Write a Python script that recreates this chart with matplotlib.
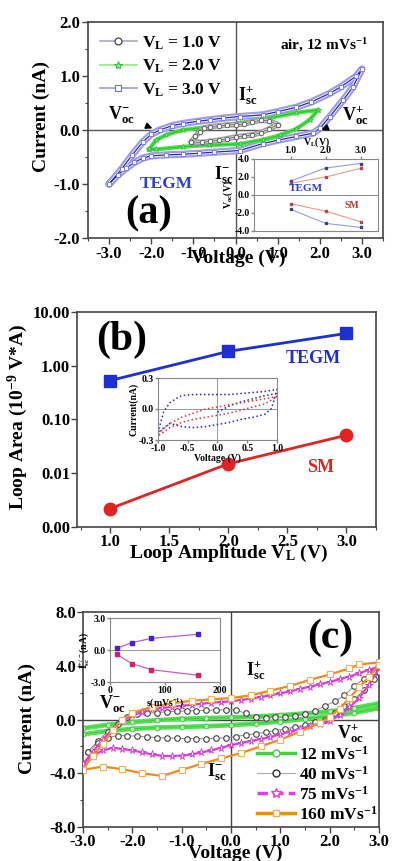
import matplotlib
matplotlib.use('Agg')
import matplotlib.pyplot as plt
from matplotlib.lines import Line2D
from matplotlib.ticker import MultipleLocator, FixedLocator, NullLocator

plt.rcParams['font.family'] = ['Liberation Serif', 'DejaVu Serif']
plt.rcParams['font.weight'] = 'bold'
plt.rcParams['axes.labelweight'] = 'bold'
plt.rcParams['mathtext.default'] = 'regular'
plt.rcParams['axes.unicode_minus'] = False

# ---------------- Panel (a) data ----------------
a3_V_up = [-3.0, -2.7, -2.45, -2.2, -2.0, -1.8, -1.5, -1.25, -0.9, -0.6, -0.3, 0.1, 0.65, 1.0, 1.44, 1.8, 2.24, 2.5, 2.87, 3.0]
a3_I_up = [-1.0, -0.72, -0.46, -0.22, -0.08, 0.0, 0.08, 0.12, 0.16, 0.19, 0.22, 0.25, 0.28, 0.34, 0.42, 0.52, 0.68, 0.80, 1.0, 1.13]
a3_V_dn = [3.0, 2.79, 2.56, 2.24, 2.0, 1.84, 1.44, 1.0, 0.65, 0.1, -0.5, -0.86, -1.25, -1.65, -2.0, -2.2, -2.4, -2.6, -2.8, -3.0]
a3_I_dn = [1.13, 0.80, 0.56, 0.25, 0.03, -0.06, -0.12, -0.19, -0.25, -0.38, -0.41, -0.43, -0.45, -0.46, -0.48, -0.52, -0.60, -0.71, -0.84, -1.0]

a2_V_up = [-2.05, -1.89, -1.65, -1.25, -0.62, 0.1, 0.65, 1.44, 1.96]
a2_I_up = [-0.36, -0.19, -0.09, 0.0, 0.06, 0.13, 0.2, 0.32, 0.37]
a2_V_dn = [1.96, 1.76, 1.44, 1.05, 0.65, 0.1, -0.62, -1.25, -1.89, -2.05]
a2_I_dn = [0.37, 0.19, 0.02, -0.10, -0.18, -0.26, -0.28, -0.31, -0.36, -0.36]

a1_V_up = [-1.05, -0.95, -0.85, -0.75, -0.6, -0.4, -0.2, 0.0, 0.2, 0.4, 0.6, 0.8, 1.0]
a1_I_up = [-0.22, -0.12, -0.03, 0.03, 0.06, 0.08, 0.09, 0.10, 0.11, 0.15, 0.18, 0.17, 0.10]
a1_V_dn = [1.0, 0.8, 0.6, 0.4, 0.2, 0.0, -0.2, -0.4, -0.6, -0.8, -1.05]
a1_I_dn = [0.10, 0.02, -0.05, -0.09, -0.11, -0.13, -0.16, -0.19, -0.21, -0.23, -0.22]

a_legend = ['V$_L$ = 1.0 V', 'V$_L$ = 2.0 V', 'V$_L$ = 3.0 V']

# inset (a): Voc vs VL
ain_VL = [1.0, 2.0, 3.0]
ain_tegm_pos = [1.55, 3.0, 3.5]
ain_sm_pos = [1.3, 2.0, 2.95]
ain_sm_neg = [-0.97, -1.8, -2.96]
ain_tegm_neg = [-1.6, -3.15, -3.6]

# ---------------- Panel (b) data ----------------
b_VL = [1.0, 2.0, 3.0]
b_tegm = [0.53, 1.85, 4.0]
b_sm = [0.0022, 0.015, 0.051]
b_yticks = [0.001, 0.01, 0.1, 1, 10]
b_yticklabels = ['0.00', '0.01', '0.10', '1.00', '10.00']

bin_tegm_V = [-1.0, -0.95, -0.9, -0.8, -0.7, -0.6, -0.4, -0.2, 0.0, 0.2, 0.4, 0.6, 0.8, 0.9, 1.0,
              0.95, 0.9, 0.8, 0.6, 0.4, 0.2, 0.0, -0.2, -0.4, -0.6, -0.8, -0.9, -1.0]
bin_tegm_I = [-0.23, -0.12, -0.02, 0.06, 0.10, 0.13, 0.14, 0.14, 0.14, 0.14, 0.15, 0.16, 0.17, 0.18, 0.19,
              0.08, 0.0, -0.05, -0.08, -0.10, -0.13, -0.15, -0.17, -0.18, -0.17, -0.14, -0.18, -0.23]
bin_tegm2_V = [0.0, 0.2, 0.4, 0.6, 0.8, 1.0]
bin_tegm2_I = [-0.03, 0.03, 0.07, 0.10, 0.13, 0.15]
bin_sm_V = [-1.0, -0.8, -0.6, -0.4, -0.2, 0.0, 0.2, 0.4, 0.6, 0.8, 1.0,
            0.8, 0.6, 0.4, 0.2, 0.0, -0.2, -0.4, -0.6, -0.8, -1.0]
bin_sm_I = [-0.24, -0.14, -0.08, -0.04, 0.0, 0.02, 0.04, 0.06, 0.08, 0.10, 0.12,
            0.05, 0.02, -0.01, -0.04, -0.06, -0.08, -0.10, -0.13, -0.18, -0.26]

# ---------------- Panel (c) data ----------------
c12_V = [-3.0, -2.5, -2.0, -1.5, -1.0, -0.5, 0.0, 0.5, 1.0, 1.5, 2.0, 2.5, 3.0,
         3.0, 2.5, 2.0, 1.5, 1.0, 0.5, 0.0, -0.5, -1.0, -1.5, -2.0, -2.5, -3.0]
c12_I = [-0.65, -0.4, -0.2, -0.05, 0.05, 0.1, 0.15, 0.22, 0.32, 0.45, 0.6, 0.85, 1.2,
         0.85, 0.5, 0.25, 0.05, -0.15, -0.3, -0.42, -0.5, -0.55, -0.6, -0.7, -0.85, -1.1]

c40_V = [-2.9, -2.7, -2.5, -2.3, -2.1, -1.9, -1.7, -1.5, -1.3, -1.1, -0.9, -0.7, -0.5, -0.3, -0.1, 0.1,
         0.3, 0.5, 0.7, 0.9, 1.1, 1.3, 1.5, 1.7, 1.9, 2.1, 2.3, 2.5, 2.7, 2.9, 3.0,
         3.0, 2.9, 2.7, 2.5, 2.3, 2.1, 1.9, 1.7, 1.5, 1.3, 1.1, 0.9, 0.7, 0.5, 0.3, 0.1, -0.1,
         -0.3, -0.5, -0.7, -0.9, -1.1, -1.3, -1.5, -1.7, -1.9, -2.1, -2.3, -2.5, -2.7, -2.9]
c40_I = [-2.4, -1.6, -0.9, -0.3, 0.15, 0.4, 0.47, 0.52, 0.57, 0.6, 0.63, 0.66, 0.68, 0.7, 0.72, 0.72,
         0.45, 0.15, 0.12, 0.15, 0.2, 0.28, 0.42, 0.65, 1.0, 1.35, 1.8, 2.5, 3.05, 3.5, 3.7,
         3.5, 3.0, 2.2, 1.5, 1.0, 0.45, 0.0, -0.2, -0.4, -0.55, -0.7, -0.82, -0.95, -1.05, -1.15, -1.27, -1.35,
         -1.4, -1.42, -1.42, -1.42, -1.4, -1.38, -1.35, -1.3, -1.25, -1.2, -1.2, -1.35, -1.75, -2.4]

c75_V = [-3.0, -2.8, -2.6, -2.4, -2.2, -2.0, -1.8, -1.6, -1.4, -1.2, -1.0, -0.8, -0.6, -0.4, -0.2, 0.0,
         0.2, 0.4, 0.6, 0.8, 1.0, 1.2, 1.4, 1.6, 1.8, 2.0, 2.2, 2.4, 2.6, 2.8, 3.0,
         3.0, 2.8, 2.6, 2.4, 2.2, 2.0, 1.8, 1.6, 1.4, 1.2, 1.0, 0.8, 0.6, 0.4, 0.2, 0.0,
         -0.2, -0.4, -0.6, -0.8, -1.0, -1.2, -1.4, -1.6, -1.8, -2.0, -2.2, -2.4, -2.6, -2.8, -3.0]
c75_I = [-3.3, -2.4, -1.5, -0.7, -0.1, 0.3, 0.55, 0.75, 0.85, 0.95, 1.02, 1.1, 1.17, 1.25, 1.3, 1.35,
         1.45, 1.55, 1.68, 1.8, 1.95, 2.1, 2.28, 2.45, 2.62, 2.8, 3.0, 3.2, 3.45, 3.7, 3.95,
         3.8, 2.6, 1.6, 0.9, 0.3, -0.1, -0.3, -0.5, -0.7, -0.9, -1.1, -1.3, -1.45, -1.6, -1.75, -1.9,
         -2.1, -2.3, -2.45, -2.6, -2.68, -2.72, -2.7, -2.6, -2.45, -2.3, -2.2, -2.1, -2.3, -2.7, -3.3]

c160_V = [-3.0, -2.8, -2.6, -2.4, -2.2, -2.0, -1.6, -1.2, -0.8, -0.4, 0.0, 0.4, 0.8, 1.2, 1.6, 2.0, 2.4, 2.6, 3.0,
          3.0, 2.8, 2.6, 2.4, 2.2, 2.0, 1.8, 1.4, 1.0, 0.6, 0.2, -0.2, -0.6, -1.0, -1.4, -1.8, -2.2, -2.6, -3.0]
c160_I = [-3.7, -2.7, -1.8, -0.8, 0.0, 0.5, 0.95, 1.2, 1.4, 1.5, 1.6, 1.8, 2.15, 2.5, 2.95, 3.35, 3.8, 4.1, 4.25,
          4.05, 3.2, 2.4, 1.6, 0.8, 0.2, -0.25, -0.9, -1.5, -2.0, -2.5, -2.9, -3.3, -3.75, -4.2, -4.0, -3.7, -3.5, -3.75]

c_legend = ['12 mVs$^{-1}$', '40 mVs$^{-1}$', '75 mVs$^{-1}$', '160 mVs$^{-1}$']

cin_s = [12, 40, 75, 160]
cin_pos = [0.16, 0.69, 1.09, 1.47]
cin_neg = [-0.41, -1.28, -1.84, -2.37]

W, H = 399, 861
fig = plt.figure(figsize=(W / 100, H / 100), dpi=100)


def rect(l, t, r, b):
    return [l / W, 1 - b / H, (r - l) / W, (b - t) / H]


def style(ax, fs=12, spine='#444', lw=1.2, pad=1.5):
    for s in ax.spines.values():
        s.set_color(spine)
        s.set_linewidth(lw)
    ax.tick_params(which='both', direction='out', colors=spine, labelcolor='black', labelsize=fs, pad=pad)
    ax.tick_params(which='major', length=4, width=1)
    ax.tick_params(which='minor', length=2.5, width=0.8)


def fmt1(vals):
    return ['%.1f' % v for v in vals]


def band(ax, V, I, edge, line, marker, ms, mec, lwb, z):
    ax.plot(V, I, color=edge, lw=lwb, solid_joinstyle='round', solid_capstyle='round', zorder=z)
    ax.plot(V, I, color='white', lw=lwb * 0.4, solid_joinstyle='round', zorder=z + 0.01)
    ax.plot(V, I, color=line, lw=0.9, marker=marker, ms=ms, mfc='white', mec=mec, mew=0.7, zorder=z + 0.02)


# ================= Panel (a) =================
ax = fig.add_axes(rect(88, 22, 383, 238))
style(ax)
ax.set_xlim(-3.5, 3.5)
ax.set_ylim(-2, 2)
xt = [-3, -2, -1, 0, 1, 2, 3]
ax.set_xticks(xt)
ax.set_xticklabels(fmt1(xt))
yt = [-2, -1, 0, 1, 2]
ax.set_yticks(yt)
ax.set_yticklabels(fmt1(yt))
ax.xaxis.set_minor_locator(MultipleLocator(0.5))
ax.yaxis.set_minor_locator(MultipleLocator(0.5))
ax.axhline(0, color='#555', lw=1, zorder=1)
ax.axvline(0, color='#555', lw=1, zorder=1)

band(ax, a3_V_up + a3_V_dn, a3_I_up + a3_I_dn, '#9c9ce8', '#2828b8', 's', 3.2, '#8080dc', 5.2, 2)
ax.plot(a2_V_up + a2_V_dn, a2_I_up + a2_I_dn, color='#4ee04e', lw=3.0, solid_joinstyle='round', zorder=3)
ax.plot(a2_V_up + a2_V_dn, a2_I_up + a2_I_dn, color='#30c030', lw=0.8, marker='*', ms=4,
        mfc='#70f070', mec='#30c030', mew=0.5, zorder=3.1)
band(ax, a1_V_up + a1_V_dn, a1_I_up + a1_I_dn, '#a0a0a0', '#808080', 'o', 3.2, '#606060', 4.0, 4)

h = [Line2D([], [], color='#a8a8cc', lw=1.2, marker='o', ms=5, mfc='white', mec='#333333', mew=0.8),
     Line2D([], [], color='#90e890', lw=1.2, marker='*', ms=6, mfc='#90f090', mec='#40c040', mew=0.8),
     Line2D([], [], color='#9a9ae0', lw=1.2, marker='s', ms=5, mfc='white', mec='#7070d0', mew=0.8)]
ax.legend(h, a_legend, loc='upper left', bbox_to_anchor=(0.0, 1.0), frameon=False,
          fontsize=12.5, handlelength=2.1, handletextpad=0.3, labelspacing=0.35, borderaxespad=0.3)

ax.text(0.65, 0.895, 'air, 12 mVs$^{-1}$', transform=ax.transAxes, fontsize=11, ha='left', va='center')
ax.annotate('V$_{oc}^{-}$', xy=(-1.97, 0.03), xytext=(-2.72, 0.27), fontsize=13, ha='center', va='center',
            arrowprops=dict(arrowstyle='-|>', color='black', lw=1.2, shrinkA=9, shrinkB=0, mutation_scale=9))
ax.annotate('V$_{oc}^{+}$', xy=(2.04, 0.0), xytext=(2.85, 0.27), fontsize=13, ha='center', va='center',
            arrowprops=dict(arrowstyle='-|>', color='black', lw=1.2, shrinkA=10, shrinkB=0, mutation_scale=9))
ax.text(0.29, 0.63, 'I$_{sc}^{+}$', fontsize=13, ha='center', va='center')
ax.text(-0.29, -0.83, 'I$_{sc}^{-}$', fontsize=13, ha='center', va='center')
ax.text(-1.64, -1.0, 'TEGM', fontsize=12.5, color='#3040c8', ha='center', va='center')
ax.text(-2.05, -1.55, '(a)', fontsize=29, ha='center', va='center')

# inset (a)
ia = fig.add_axes(rect(254, 159, 378, 231))
style(ia, fs=7, spine='#888', lw=0.8, pad=1)
ia.set_xlim(-0.05, 3.5)
ia.set_ylim(-4, 4)
ia.set_xticks(ain_VL)
ia.set_xticklabels(fmt1(ain_VL))
ia.xaxis.set_ticks_position('top')
ia.xaxis.set_label_position('top')
iyt = [-4, -2, 0, 2, 4]
ia.set_yticks(iyt)
ia.set_yticklabels(fmt1(iyt))
ia.tick_params(length=2)
ia.axhline(0, color='#888', lw=0.7)
ia.plot(ain_VL, ain_tegm_pos, color='#9a9ae6', lw=0.8, marker='s', ms=1.5, mfc='#404080', mec='#404080')
ia.plot(ain_VL, ain_tegm_neg, color='#9a9ae6', lw=0.8, marker='s', ms=1.5, mfc='#404080', mec='#404080')
ia.plot(ain_VL, ain_sm_pos, color='#e0a080', lw=0.8, marker='s', ms=1.5, mfc='#c04040', mec='#c04040')
ia.plot(ain_VL, ain_sm_neg, color='#e0a080', lw=0.8, marker='s', ms=1.5, mfc='#c04040', mec='#c04040')
ia.set_xlabel('V$_L$(V)', fontsize=7, labelpad=1)
ia.set_ylabel('V$_{oc}$(V)', fontsize=7, labelpad=0)
ia.text(1.44, 0.7, 'TEGM', fontsize=8, color='#3040c8', ha='center', va='center')
ia.text(2.75, -1.2, 'SM', fontsize=7, color='#c03030', ha='center', va='center')

fig.text(41 / W, 1 - 117 / H, 'Current (nA)', rotation=90, fontsize=14, ha='center', va='center')
fig.text(238 / W, 1 - 258 / H, 'Voltage (V)', fontsize=14, ha='center', va='center')

# ================= Panel (b) =================
bx = fig.add_axes(rect(77, 312, 376, 527))
style(bx, pad=1)
bx.set_xlim(0.72, 3.25)
bx.set_yscale('log')
bx.set_ylim(0.001, 10)
bx.yaxis.set_major_locator(FixedLocator(b_yticks))
bx.set_yticklabels(b_yticklabels)
bx.yaxis.set_minor_locator(NullLocator())
bxt = [1.0, 1.5, 2.0, 2.5, 3.0]
bx.set_xticks(bxt)
bx.set_xticklabels(fmt1(bxt))
bx.xaxis.set_minor_locator(MultipleLocator(0.25))
bx.plot(b_VL, b_tegm, color='#1f2fd0', lw=2, marker='s', ms=8, zorder=3)
bx.plot(b_VL, b_sm, color='#e02424', lw=2, marker='o', ms=9, zorder=3)
bx.text(2.72, 1.39, 'TEGM', fontsize=13, color='#2030c0', ha='center', va='center')
bx.text(2.78, 0.0126, 'SM', fontsize=13, color='#e02424', ha='center', va='center')
bx.text(0.15, 0.87, '(b)', transform=bx.transAxes, fontsize=30, ha='center', va='center')

ib = fig.add_axes(rect(158, 378, 277, 440))
style(ib, fs=7, spine='#888', lw=0.8, pad=1)
ib.set_xlim(-1, 1)
ib.set_ylim(-0.3, 0.3)
ibx = [-1.0, -0.5, 0.0, 0.5, 1.0]
ib.set_xticks(ibx)
ib.set_xticklabels(fmt1(ibx))
iby = [-0.3, 0.0, 0.3]
ib.set_yticks(iby)
ib.set_yticklabels(fmt1(iby))
ib.tick_params(length=2)
ib.axhline(0, color='#999', lw=0.7)
ib.axvline(0, color='#999', lw=0.7)
ib.plot(bin_tegm_V, bin_tegm_I, color='#2a2aa8', lw=1.1, ls=':')
ib.plot(bin_tegm2_V, bin_tegm2_I, color='#2a2aa8', lw=1.1, ls=':')
ib.plot(bin_sm_V, bin_sm_I, color='#d03c3c', lw=1.1, ls=':')
ib.set_xlabel('Voltage (V)', fontsize=7, labelpad=0)
ib.set_ylabel('Current(nA)', fontsize=7, labelpad=0)

fig.text(18 / W, 1 - 417 / H, 'Loop Area (10$^{-9}$ V*A)', rotation=90, fontsize=14, ha='center', va='center')
fig.text(228 / W, 1 - 553 / H, 'Loop Amplitude V$_L$ (V)', fontsize=14, ha='center', va='center')

# ================= Panel (c) =================
cx = fig.add_axes(rect(83, 612, 379, 827))
style(cx, pad=1)
cx.set_xlim(-3, 3)
cx.set_ylim(-8, 8)
cx.set_xticks(xt)
cx.set_xticklabels(fmt1(xt))
cyt = [-8, -4, 0, 4, 8]
cx.set_yticks(cyt)
cx.set_yticklabels(fmt1(cyt))
cx.xaxis.set_minor_locator(MultipleLocator(0.5))
cx.yaxis.set_minor_locator(MultipleLocator(2))
cx.axhline(0, color='#444', lw=1, zorder=1)
cx.axvline(0, color='#444', lw=1, zorder=1)

cx.plot(c12_V, c12_I, color='#58e058', lw=3.4, solid_joinstyle='round', zorder=2)
cx.plot(c12_V, c12_I, color='#40d040', lw=0.8, marker='o', ms=3.5, mfc='#b0f5b0', mec='#40c040', mew=0.6, zorder=2.1)
cx.plot(c40_V, c40_I, color='#999999', lw=0.8, marker='o', ms=4, mfc='white', mec='#404040', mew=0.8, zorder=3)
cx.plot(c75_V, c75_I, color='#e040e0', lw=1.6, marker='*', ms=5.5, mfc='white', mec='#d030d0', mew=0.6, zorder=4)
cx.plot(c160_V, c160_I, color='#f08a1e', lw=1.6, marker='s', ms=4, mfc='white', mec='#f0b060', mew=0.8, zorder=5)

hc = [Line2D([], [], color='#40d040', lw=2.5, marker='o', ms=5, mfc='white', mec='#40d040'),
      Line2D([], [], color='#aaaaaa', lw=0.8, marker='o', ms=5, mfc='white', mec='#333333'),
      Line2D([], [], color='#e040e0', lw=2.5, ls=(0, (3, 1.5)), marker='*', ms=7, mfc='white', mec='#e040e0'),
      Line2D([], [], color='#f08a1e', lw=2.5, marker='s', ms=5, mfc='white', mec='#f0b060')]
cx.legend(hc, c_legend, loc='lower right', bbox_to_anchor=(1.02, -0.015), frameon=False, fontsize=12.5,
          handlelength=2.2, handletextpad=0.25, labelspacing=0.12, borderaxespad=0.0)

cx.text(0.834, 0.88, '(c)', transform=cx.transAxes, fontsize=30, ha='center', va='center')
cx.text(0.49, 3.6, 'I$_{sc}^{+}$', fontsize=13, ha='center', va='center')
cx.text(-2.41, 1.1, 'V$_{oc}^{-}$', fontsize=13, ha='center', va='center')
cx.text(2.41, -1.05, 'V$_{oc}^{+}$', fontsize=13, ha='center', va='center')
cx.text(-0.3, -3.9, 'I$_{sc}^{-}$', fontsize=13, ha='center', va='center')

ic = fig.add_axes(rect(110, 618, 220, 682))
style(ic, fs=7, spine='#888', lw=0.8, pad=1)
ic.set_xlim(0, 200)
ic.set_ylim(-3, 3)
ic.set_xticks([0, 100, 200])
ic.set_xticklabels(['0', '100', '200'])
ic.set_yticks([-3, 0, 3])
ic.set_yticklabels(fmt1([-3, 0, 3]))
ic.tick_params(length=2)
ic.axhline(0, color='#999', lw=0.7)
ic.plot(cin_s, cin_pos, color='#b060d0', lw=0.9, marker='s', ms=3, mfc='#4a20d0', mec='#4a20d0')
ic.plot(cin_s, cin_neg, color='#c060c0', lw=0.9, marker='s', ms=3, mfc='#d0206a', mec='#d0206a')
ic.set_xlabel('s(mVs$^{-1}$)', fontsize=7, labelpad=1)
ic.set_ylabel('I$_{sc}^{+/-}$(nA)', fontsize=7, labelpad=-1)

fig.text(27 / W, 1 - 718 / H, 'Current (nA)', rotation=90, fontsize=14, ha='center', va='center')
fig.text(235 / W, 1 - 853 / H, 'Voltage (V)', fontsize=14, ha='center', va='center')

fig.savefig('out.png', dpi=100)
